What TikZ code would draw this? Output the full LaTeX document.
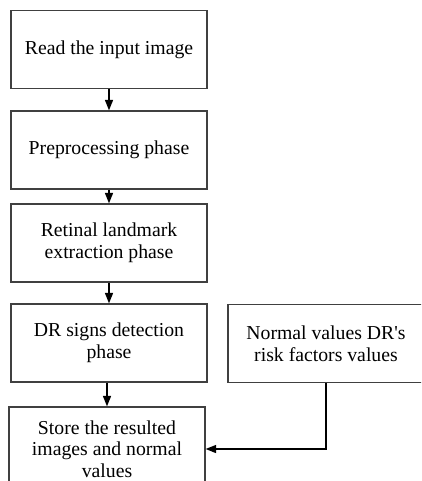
\documentclass[tikz,border=0pt]{standalone}
\usepackage{fontspec}
\setmainfont{Liberation Serif}
\usetikzlibrary{arrows.meta}

\tikzset{
  stepbox/.style={draw=black!75, line width=0.8pt, fill=white,
    minimum width=147pt, minimum height=58.5pt, align=center,
    inner sep=2pt, font=\fontsize{14.8}{16.3}\selectfont},
  flow/.style={line width=1.2pt, -{Triangle[length=8pt,width=6pt]}}
}

\begin{document}
\begin{tikzpicture}[x=0.75pt, y=-0.75pt]
    % page frame, boxes running off the edge are cut
    \useasboundingbox (0,0) rectangle (421,481);
    \clip (0,0) rectangle (421,481);
    \fill[white] (0,0) rectangle (421,481);

    % main chain of phases
    \node[stepbox] (read)    at (109,49.5) {Read the input image};
    \node[stepbox] (prep)    at (109,150)  {Preprocessing phase};
    \node[stepbox] (retinal) at (109,243)  {Retinal landmark\\extraction phase};
    \node[stepbox] (signs)   at (109,343)  {DR signs detection\\phase};
    \node[stepbox, minimum height=63pt] (store) at (107,449)
      {Store the resulted\\images and normal\\values};

    % side input
    \node[stepbox] (normal) at (326,343.5)
      {Normal values DR\textquotesingle s\\risk factors values};

    \draw[flow] (read)    -- (prep);
    \draw[flow] (prep)    -- (retinal);
    \draw[flow] (retinal) -- (signs);
    \draw[flow] (signs.south -| store.north) -- (store.north);
    \draw[flow] (normal.south) |- (store.east);
  \end{tikzpicture}
\end{document}
